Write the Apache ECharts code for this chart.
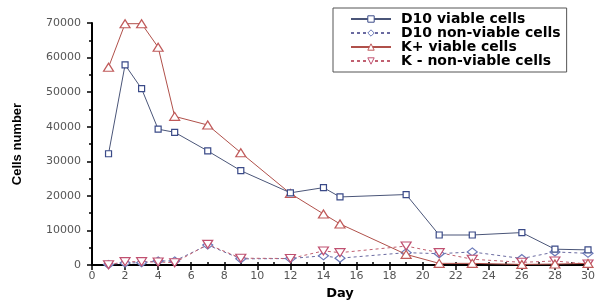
<!DOCTYPE html>
<html><head><meta charset="utf-8">
<script src="https://cdn.jsdelivr.net/npm/echarts@6/dist/echarts.min.js"></script>
<style>html,body{margin:0;padding:0;background:#fff}#c{width:600px;height:305px}</style>
</head><body><div id="c"></div>
<script>
const days = [1,2,3,4,5,7,9,12,14,15,19,21,23,26,28,30];
const d10Viable = [32200,57900,51000,39300,38400,33000,27300,20900,22400,19700,20400,8700,8700,9400,4600,4400];
const d10NonViable = [200,600,700,1200,1200,5800,1800,1900,2700,2000,3600,3300,3800,1900,3800,3400];
const kViable = [57200,69800,69800,63000,43000,40500,32500,20700,14800,11900,3100,500,500,200,300,500];
const kNonViable = [100,1000,1000,900,700,6000,2000,1900,4100,3600,5500,3600,1700,800,1200,300];
const seriesNames = ['D10 viable cells','D10 non-viable cells','K+ viable cells','K - non-viable cells'];
const markerColors = ['#3a4a88','#6a78b8','#c05a5a','#c05070'];
const xTicks = {min:0, max:30, interval:2};
const yTicks = {min:0, max:70000, interval:10000};

const pairs = v => days.map((d,i)=>[d, v[i]]);
const chart = echarts.init(document.getElementById('c'));
const lab = {fontFamily:'DejaVu Sans', fontSize:11, color:'#555', formatter: v => String(v)};
chart.setOption({
  animation:false,
  grid:{left:92, right:12, top:23, bottom:37},
  legend:{
    left:333, top:8, orient:'vertical', itemGap:0, itemWidth:40, itemHeight:8,
    padding:[4,6,4,17], borderColor:'#555', borderWidth:1,
    textStyle:{fontFamily:'DejaVu Sans', fontWeight:'bold', fontSize:14, color:'#000', lineHeight:14, padding:[0,0,0,5]},
    data:seriesNames.map((n,i)=>({name:n, itemStyle:{color:'#fff', borderColor:markerColors[i], borderWidth:1}}))
  },
  xAxis:[{
    type:'value', min:xTicks.min, max:xTicks.max, interval:xTicks.interval,
    name:'Day', nameLocation:'middle', nameGap:21,
    nameTextStyle:{fontFamily:'DejaVu Sans', fontWeight:'bold', fontSize:13, color:'#000'},
    axisLine:{lineStyle:{color:'#000', width:2}},
    axisTick:{length:5, lineStyle:{color:'#000', width:1.5}},
    axisLabel:Object.assign({margin:6}, lab),
    splitLine:{show:false}
  },{
    type:'value', min:xTicks.min, max:xTicks.max, interval:1, position:'bottom',
    axisLine:{show:false}, axisLabel:{show:false}, splitLine:{show:false},
    axisTick:{inside:true, length:3, lineStyle:{color:'#000', width:1.5}}
  }],
  yAxis:{
    type:'value', min:yTicks.min, max:yTicks.max, interval:yTicks.interval,
    name:'Cells number', nameLocation:'middle', nameGap:68,
    nameTextStyle:{fontFamily:'Liberation Sans', fontWeight:'bold', fontSize:13, color:'#000'},
    axisLine:{show:true, lineStyle:{color:'#000', width:2}},
    axisTick:{show:true, length:5, lineStyle:{color:'#000', width:1.5}},
    minorTick:{show:true, splitNumber:2, length:3, lineStyle:{color:'#000', width:1.5}},
    axisLabel:Object.assign({margin:11}, lab),
    splitLine:{show:false}
  },
  series:[
    {name:seriesNames[0], type:'line', data:pairs(d10Viable), symbol:'rect', symbolSize:6,
     lineStyle:{color:'#4a5578', width:1}, itemStyle:{color:'#fff', borderColor:markerColors[0], borderWidth:1.2}, z:4},
    {name:seriesNames[1], type:'line', data:pairs(d10NonViable), symbol:'diamond', symbolSize:[10,8],
     lineStyle:{color:'#6a6aa0', width:1, type:[3,3]}, itemStyle:{color:'#fff', borderColor:markerColors[1], borderWidth:1.2}, z:2},
    {name:seriesNames[2], type:'line', data:pairs(kViable), symbol:'triangle', symbolSize:[10,8],
     lineStyle:{color:'#b0504a', width:1}, itemStyle:{color:'#fff', borderColor:markerColors[2], borderWidth:1.2}, z:3},
    {name:seriesNames[3], type:'line', data:pairs(kNonViable), symbol:'triangle', symbolRotate:180, symbolSize:[10,8],
     lineStyle:{color:'#c06070', width:1, type:[3,3]}, itemStyle:{color:'#fff', borderColor:markerColors[3], borderWidth:1.2}, z:2}
  ]
});
</script></body></html>
